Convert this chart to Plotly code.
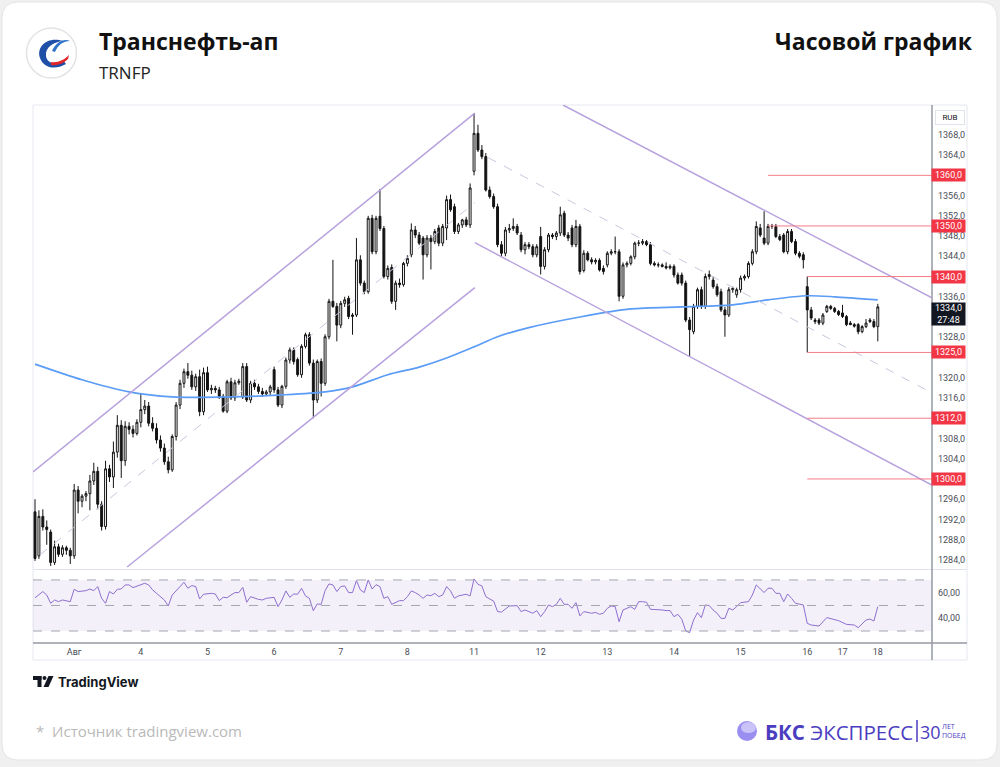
import plotly.graph_objects as go

# ---------------- data ----------------
day_labels = ["Авг", "4", "5", "6", "7", "8", "11", "12", "13", "14", "15", "16", "17", "18"]
day_start_idx = [10, 27, 44, 61, 78, 95, 112, 129, 146, 163, 180, 197, 206, 215]

opens = [
    1293.5, 1284.8, 1292.6, 1290.5, 1289.5, 1283.5, 1286.6, 1285.1, 1286.4, 1285.9,
    1284.8, 1297.8, 1295.6, 1296.6, 1297.1, 1299.6, 1301.5, 1295.0, 1290.6, 1302.0, 1300.4, 1305.3, 1310.6, 1303.6, 1310.4, 1309.8, 1309.0,
    1311.2, 1313.7, 1314.4, 1311.0, 1310.0, 1307.7, 1306.1, 1303.4, 1301.8, 1308.4, 1314.6, 1318.9, 1321.2, 1320.5, 1318.2, 1320.2, 1313.3,
    1321.0, 1317.6, 1317.9, 1317.6, 1316.3, 1313.4, 1319.2, 1316.0, 1319.0, 1316.2, 1322.2, 1315.6, 1318.9, 1318.2, 1317.3, 1316.8, 1317.2,
    1321.6, 1317.6, 1314.6, 1318.3, 1323.5, 1325.5, 1323.6, 1320.6, 1326.2, 1328.5, 1322.9, 1315.6, 1323.2, 1318.9, 1328.1, 1335.1, 1334.1,
    1330.4, 1334.7, 1335.7, 1332.1, 1332.4, 1343.3, 1338.7, 1337.0, 1351.5, 1344.9, 1351.9, 1349.5, 1340.0, 1341.8, 1335.1, 1338.7, 1338.4,
    1342.6, 1344.3, 1349.2, 1348.2, 1347.6, 1344.3, 1347.6, 1346.9, 1349.6, 1346.6, 1349.6, 1355.2, 1353.8, 1348.9, 1350.2, 1351.2, 1350.2,
    1360.8, 1368.3, 1365.0, 1363.7, 1357.1, 1355.8, 1353.8, 1346.3, 1344.6, 1349.2, 1349.5, 1349.9, 1348.2, 1345.3, 1346.3, 1345.9, 1344.3,
    1347.9, 1342.0, 1345.3, 1348.2, 1347.9, 1348.6, 1352.5, 1348.2, 1349.6, 1346.3, 1349.9, 1341.2, 1344.6, 1343.3, 1342.9, 1343.2, 1341.6,
    1342.3, 1344.6, 1344.9, 1344.9, 1336.1, 1342.3, 1342.6, 1343.9, 1346.6, 1346.6, 1346.9, 1346.3, 1342.6, 1342.3, 1342.3, 1342.0, 1341.7,
    1342.0, 1340.3, 1340.3, 1338.7, 1331.4, 1329.1, 1334.1, 1337.4, 1334.1, 1340.0, 1339.3, 1338.0, 1337.0, 1333.4, 1332.4, 1337.4, 1336.4,
    1337.4, 1339.7, 1340.0, 1342.6, 1344.9, 1349.6, 1347.6, 1346.6, 1349.9, 1349.9, 1347.9, 1348.2, 1344.9, 1348.9, 1346.9, 1344.6, 1344.3,
    1338.0, 1333.4, 1331.4, 1331.4, 1330.8, 1333.1, 1334.1, 1333.7, 1333.1,
    1332.8, 1332.1, 1330.8, 1330.5, 1330.5, 1329.1, 1330.1, 1331.4, 1331.1,
    1330.1,
]
highs = [
    1296.0, 1293.8, 1294.0, 1291.8, 1290.0, 1287.8, 1287.2, 1286.9, 1286.8, 1286.4,
    1299.0, 1298.6, 1297.0, 1297.6, 1300.8, 1303.2, 1302.4, 1295.6, 1303.6, 1302.8, 1307.4, 1312.6, 1311.6, 1311.4, 1311.2, 1310.6, 1311.8,
    1317.0, 1315.6, 1315.2, 1312.2, 1311.0, 1308.6, 1307.0, 1304.4, 1308.8, 1315.2, 1319.6, 1321.8, 1322.9, 1321.4, 1320.8, 1321.6, 1322.0,
    1322.2, 1318.6, 1318.4, 1318.2, 1316.8, 1319.6, 1320.0, 1319.6, 1319.8, 1322.9, 1322.9, 1319.4, 1319.6, 1318.8, 1318.0, 1317.6, 1318.6,
    1322.2, 1318.2, 1318.6, 1324.0, 1326.0, 1326.0, 1324.0, 1326.6, 1328.9, 1329.0, 1323.6, 1323.6, 1323.8, 1328.6, 1335.6, 1343.3, 1334.8,
    1335.2, 1336.0, 1336.2, 1332.8, 1347.6, 1344.2, 1339.2, 1352.0, 1352.2, 1352.0, 1357.3, 1350.0, 1342.2, 1342.4, 1339.2, 1339.6, 1342.9,
    1344.2, 1350.5, 1350.0, 1348.8, 1348.0, 1348.2, 1348.2, 1349.4, 1350.2, 1350.4, 1356.0, 1356.2, 1354.4, 1350.6, 1351.4, 1351.8, 1358.4,
    1372.3, 1370.0, 1366.0, 1364.4, 1357.8, 1356.4, 1354.4, 1347.0, 1349.8, 1350.4, 1351.5, 1350.4, 1348.8, 1346.8, 1346.8, 1346.4, 1346.4,
    1349.8, 1345.8, 1348.6, 1348.6, 1349.0, 1353.8, 1353.0, 1348.8, 1350.2, 1351.2, 1350.4, 1345.2, 1345.0, 1343.8, 1343.6, 1343.6, 1342.2,
    1345.0, 1345.4, 1347.9, 1345.4, 1342.8, 1343.0, 1344.2, 1346.9, 1347.2, 1347.4, 1347.2, 1346.8, 1343.0, 1342.8, 1342.6, 1342.8, 1342.4,
    1342.4, 1340.8, 1340.8, 1339.2, 1332.0, 1334.6, 1337.8, 1338.0, 1340.6, 1341.2, 1340.0, 1338.6, 1337.6, 1334.0, 1337.9, 1338.0, 1337.8,
    1340.2, 1340.4, 1343.0, 1345.4, 1350.9, 1350.4, 1352.9, 1350.4, 1350.4, 1350.4, 1348.4, 1348.6, 1349.4, 1349.4, 1347.4, 1345.0, 1344.8,
    1340.0, 1334.0, 1331.8, 1331.8, 1332.8, 1334.4, 1334.4, 1334.0, 1333.4,
    1334.4, 1332.4, 1331.2, 1330.8, 1330.8, 1330.4, 1331.6, 1331.8, 1331.6,
    1334.6,
]
lows = [
    1283.8, 1284.2, 1289.8, 1287.0, 1282.8, 1283.0, 1284.6, 1284.6, 1285.0, 1283.2,
    1284.2, 1293.2, 1294.4, 1295.6, 1293.8, 1298.8, 1294.0, 1289.8, 1290.0, 1299.4, 1298.2, 1304.2, 1300.2, 1302.6, 1308.8, 1308.2, 1308.6,
    1310.2, 1312.8, 1310.4, 1309.4, 1307.0, 1305.4, 1302.8, 1301.1, 1301.4, 1307.6, 1313.8, 1318.0, 1319.8, 1317.6, 1317.4, 1312.4, 1312.6,
    1317.2, 1316.8, 1317.0, 1315.8, 1313.1, 1313.0, 1315.6, 1315.4, 1318.6, 1315.8, 1315.2, 1315.0, 1317.6, 1316.8, 1316.2, 1316.4, 1316.6,
    1317.0, 1314.2, 1314.0, 1317.8, 1322.8, 1322.6, 1320.2, 1320.0, 1325.8, 1322.4, 1312.0, 1315.0, 1316.3, 1318.4, 1327.6, 1333.8, 1327.2,
    1329.8, 1334.0, 1331.6, 1328.5, 1332.0, 1338.2, 1336.5, 1336.6, 1344.4, 1344.4, 1349.0, 1339.6, 1339.4, 1334.6, 1333.4, 1337.8, 1338.0,
    1342.0, 1343.8, 1347.6, 1346.2, 1339.4, 1343.8, 1341.4, 1346.4, 1346.0, 1346.0, 1347.2, 1352.8, 1348.4, 1348.4, 1349.6, 1349.8, 1349.6,
    1360.0, 1364.6, 1363.2, 1356.8, 1355.4, 1353.4, 1345.8, 1344.0, 1344.0, 1348.6, 1349.0, 1348.2, 1344.8, 1344.4, 1345.4, 1343.8, 1343.8,
    1340.4, 1341.4, 1344.8, 1347.4, 1347.2, 1348.0, 1347.8, 1347.0, 1345.8, 1345.8, 1340.4, 1340.8, 1343.0, 1342.4, 1342.4, 1341.0, 1340.4,
    1341.8, 1344.2, 1344.4, 1335.1, 1335.6, 1341.8, 1342.2, 1343.4, 1346.0, 1346.2, 1346.0, 1342.2, 1342.0, 1341.8, 1341.8, 1341.4, 1341.4,
    1339.8, 1338.4, 1338.2, 1331.0, 1324.2, 1328.6, 1333.6, 1333.6, 1333.6, 1339.4, 1337.6, 1336.0, 1333.0, 1328.1, 1332.0, 1336.8, 1335.8,
    1336.8, 1339.2, 1339.6, 1342.2, 1344.4, 1347.8, 1346.2, 1346.2, 1349.4, 1347.6, 1347.0, 1344.6, 1344.4, 1346.6, 1344.2, 1343.6, 1341.6,
    1325.0, 1331.4, 1330.6, 1330.4, 1330.4, 1332.8, 1333.4, 1332.8, 1332.2,
    1331.8, 1330.2, 1330.4, 1329.9, 1328.6, 1328.8, 1329.8, 1330.8, 1329.8,
    1327.2,
]
closes = [
    1284.3, 1292.6, 1290.5, 1290.0, 1283.5, 1286.6, 1285.1, 1286.4, 1285.9, 1284.8,
    1297.8, 1295.6, 1296.6, 1297.1, 1299.6, 1301.5, 1295.0, 1290.6, 1302.0, 1300.4, 1305.3, 1310.6, 1303.6, 1310.4, 1309.8, 1309.0, 1311.2,
    1313.7, 1314.4, 1311.0, 1310.0, 1307.7, 1306.1, 1303.4, 1301.8, 1308.4, 1314.6, 1318.9, 1321.2, 1320.5, 1318.2, 1320.2, 1313.3, 1321.0,
    1317.6, 1317.9, 1317.6, 1316.3, 1313.4, 1319.2, 1316.0, 1319.0, 1319.3, 1322.2, 1315.6, 1318.9, 1318.2, 1317.3, 1316.8, 1317.2, 1318.2,
    1317.6, 1314.6, 1318.3, 1323.5, 1325.5, 1323.2, 1320.6, 1326.2, 1328.5, 1322.9, 1315.6, 1323.2, 1318.9, 1328.1, 1335.1, 1334.1, 1330.4,
    1334.7, 1335.4, 1332.1, 1332.4, 1343.3, 1338.7, 1337.0, 1351.5, 1344.9, 1351.5, 1349.5, 1340.0, 1341.6, 1335.1, 1338.7, 1338.4, 1342.6,
    1343.6, 1349.2, 1348.2, 1346.6, 1344.3, 1347.6, 1346.9, 1348.9, 1346.6, 1349.9, 1355.2, 1353.2, 1348.9, 1350.2, 1351.2, 1350.2, 1357.5,
    1368.3, 1365.0, 1363.7, 1357.1, 1355.8, 1353.8, 1346.3, 1344.6, 1349.2, 1349.5, 1349.9, 1348.6, 1345.3, 1346.3, 1345.9, 1344.3, 1345.9,
    1342.0, 1345.3, 1348.2, 1347.9, 1348.6, 1352.2, 1348.2, 1347.6, 1346.3, 1349.9, 1341.0, 1344.6, 1343.3, 1342.9, 1343.2, 1341.3, 1341.0,
    1344.6, 1344.9, 1344.9, 1336.1, 1342.3, 1342.6, 1343.9, 1346.6, 1346.6, 1346.9, 1346.3, 1342.6, 1342.3, 1342.3, 1342.0, 1341.7, 1342.0,
    1340.3, 1338.7, 1338.7, 1331.4, 1329.5, 1334.1, 1337.4, 1334.1, 1340.0, 1340.4, 1338.0, 1336.4, 1333.4, 1332.4, 1337.4, 1337.7, 1337.4,
    1339.7, 1340.0, 1342.6, 1344.9, 1349.9, 1348.2, 1346.6, 1349.9, 1349.9, 1347.9, 1347.3, 1344.9, 1348.9, 1346.9, 1344.6, 1344.0, 1343.3,
    1333.4, 1331.8, 1331.1, 1330.8, 1332.4, 1334.1, 1333.7, 1333.1, 1332.5,
    1332.1, 1330.5, 1330.5, 1330.2, 1329.1, 1330.1, 1330.8, 1331.1, 1330.1,
    1334.0,
]

# moving average (sampled at candle indices)
ma_idx = [0, 12, 24, 35, 50, 63, 74, 81, 90, 98, 105, 112, 118, 126, 139, 152, 165, 178, 187, 197, 204, 215]
ma_val = [1322.7, 1319.6, 1317.2, 1316.2, 1316.2, 1316.6, 1317.2, 1318.2, 1320.6, 1322.1, 1323.9, 1326.1, 1328.1,
          1329.9, 1332.0, 1333.6, 1334.0, 1334.4, 1335.4, 1336.2, 1336.0, 1335.4]

# RSI (candle index, value)
rsi_idx = [0, 2, 3, 4, 5, 6, 7, 9, 10, 11, 13, 14, 15, 16, 17, 18, 19, 20, 21, 22, 23, 24, 25, 27, 28, 29, 30, 31, 33, 34, 35,
           37, 38, 39, 40, 41, 42, 43, 45, 46, 47, 48, 49, 50, 51, 52, 53, 54, 55, 57, 58, 59, 61, 62, 63, 64, 65, 66, 67, 68,
           69, 70, 71, 72, 73, 74, 75, 76, 77, 78, 79, 80, 81, 82, 83, 84, 85, 86, 87, 88, 89, 90, 91, 93, 94, 95, 96, 97, 98,
           99, 100, 101, 102, 103, 104, 105, 106, 107, 108, 110, 111, 112, 113, 114, 115, 116, 117, 118, 119, 121, 122, 123,
           124, 125, 126, 127, 128, 129, 130, 131, 132, 133, 134, 135, 136, 137, 138, 139, 140, 141, 142, 143, 144, 145, 146,
           147, 148, 149, 150, 151, 152, 153, 154, 155, 156, 157, 159, 160, 161, 162, 163, 164, 165, 166, 167, 168, 169, 170,
           171, 172, 173, 174, 175, 176, 177, 178, 179, 180, 182, 183, 184, 185, 186, 187, 188, 189, 190, 191, 192, 193, 194,
           196, 197, 198, 200, 202, 204, 205, 207, 209, 210, 211, 212, 213, 214, 215]
rsi_val = [56.0, 60.9, 58.2, 51.7, 54.3, 53.0, 54.3, 53.0, 62.7, 60.9, 61.6, 62.9, 61.6, 64.8, 55.6, 51.7, 60.9, 59.0, 62.7,
           62.9, 66.1, 66.1, 64.0, 66.1, 67.4, 66.1, 62.2, 59.5, 54.3, 49.6, 58.2,
           64.8, 68.2, 63.5, 65.6, 64.8, 55.1, 58.8, 59.5, 59.0, 53.8, 56.4, 56.1, 58.2, 60.1, 60.1, 64.2, 52.5, 56.9, 54.8,
           54.3, 55.6, 56.4, 49.1, 54.3, 61.4, 56.4, 59.0, 58.8, 63.5,
           57.5, 55.6, 45.9, 51.2, 50.9, 61.6, 66.9, 66.1, 60.9, 64.8, 65.3, 60.1, 60.1, 69.5, 62.2, 60.1, 70.0, 62.9, 66.3,
           64.8, 55.6, 56.9, 50.9, 53.8, 53.8, 56.9, 61.4, 60.1, 58.2,
           55.6, 58.2, 57.7, 59.5, 56.9, 58.2, 64.8, 61.4, 55.6, 57.5, 58.8, 57.5, 70.8, 66.6, 65.3, 56.9, 55.1, 53.5, 45.2,
           44.8, 49.6, 49.6, 49.9,
           45.2, 46.5, 45.2, 43.9, 46.0, 41.2, 45.2, 50.4, 49.1, 50.9, 55.6, 50.9, 50.9, 47.8, 52.2, 41.8, 45.2, 44.4, 43.9,
           44.6, 43.1, 43.9, 47.8,
           49.6, 49.1, 37.3, 46.5, 47.8, 49.1, 47.0, 53.0, 53.0, 52.5, 47.0, 47.0, 46.5, 46.0, 46.0, 41.2, 43.1, 39.2, 30.0,
           28.7, 38.6, 44.4, 40.5,
           50.4, 49.9, 46.5, 43.9, 39.9, 39.9, 47.8, 46.5, 49.1, 52.2, 53.0, 58.2, 66.1, 62.7, 60.1, 63.5, 63.5, 59.5, 59.5,
           53.0, 59.0, 55.6, 51.7,
           50.4, 36.0, 34.7, 33.9, 40.5, 39.2, 38.1, 35.2, 34.7, 32.6, 36.0, 38.6, 39.4, 37.8, 49.1]

# drawn tools: trend channels (candle index, price)
channel_up_upper = [(-0.5, 1301.4), (112.2, 1372.3)]
channel_up_lower = [(23.5, 1282.6), (112.2, 1337.8)]
channel_up_mid = [(1.3, 1285.0), (112.2, 1354.6)]
channel_dn_upper = [(134.7, 1373.9), (228.8, 1335.8)]
channel_dn_lower = [(112.2, 1346.7), (228.8, 1298.8)]
channel_dn_mid = [(115.6, 1363.5), (228.8, 1317.0)]

# horizontal levels (price, start index)
level_prices = [1360.0, 1350.0, 1340.0, 1325.0, 1312.0, 1300.0]
level_start = [187, 187, 197, 197, 197, 197]

price_ticks = list(range(1284, 1369, 4))
last_price = 1334.0
last_timer = "27:48"

# ---------------- layout helpers ----------------
W, H = 1000, 767


def px(x):
    return x / W


def py(y):
    return 1 - y / H


def path(cmds):
    out = []
    for c, pts in cmds:
        s = c
        for (x, y) in pts:
            s += " %.5f,%.5f" % (px(x), py(y))
        out.append(s)
    return " ".join(out)


N = len(closes)
idx = list(range(N))
X0, X1 = 33, 932
x_rng = [(X0 - 35) / 3.92, (X1 - 35) / 3.92]

# tick labels that sit under the price-scale labels are hidden (as on the reference)
shown_ticks = [t for t in price_ticks
               if all(abs(t - lv) >= 2 for lv in level_prices)
               and not (last_price - 3.5 < t < last_price + 1.5)]

fig = go.Figure()

fig.add_trace(go.Candlestick(
    x=idx, open=opens, high=highs, low=lows, close=closes,
    increasing=dict(line=dict(color="#131313", width=1), fillcolor="#ffffff"),
    decreasing=dict(line=dict(color="#131313", width=1), fillcolor="#131313"),
    whiskerwidth=0, showlegend=False, hoverinfo="skip",
    xaxis="x", yaxis="y",
))
fig.add_trace(go.Scatter(
    x=ma_idx, y=ma_val, mode="lines", line=dict(color="#5b9cf6", width=1.7, shape="spline", smoothing=0.8),
    showlegend=False, hoverinfo="skip", xaxis="x", yaxis="y",
))
fig.add_trace(go.Scatter(
    x=rsi_idx, y=rsi_val, mode="lines", line=dict(color="#8f6fd0", width=1),
    showlegend=False, hoverinfo="skip", xaxis="x2", yaxis="y2",
))

shapes = []
# card background
r = 16
cx0, cy0, cx1, cy1 = 2, 2, 997, 760
shapes.append(dict(
    type="path", xref="paper", yref="paper", layer="below",
    path=path([("M", [(cx0 + r, cy0)]), ("L", [(cx1 - r, cy0)]), ("Q", [(cx1, cy0), (cx1, cy0 + r)]),
               ("L", [(cx1, cy1 - r)]), ("Q", [(cx1, cy1), (cx1 - r, cy1)]), ("L", [(cx0 + r, cy1)]),
               ("Q", [(cx0, cy1), (cx0, cy1 - r)]), ("L", [(cx0, cy0 + r)]), ("Q", [(cx0, cy0), (cx0 + r, cy0)]),
               ("Z", [])]),
    fillcolor="#ffffff", line=dict(color="#e4e4e4", width=1),
))
# chart frame
shapes.append(dict(type="rect", xref="paper", yref="paper", layer="below",
                   x0=px(33), x1=px(967), y0=py(660), y1=py(105),
                   line=dict(color="#e6e8ee", width=1), fillcolor="rgba(0,0,0,0)"))
# RSI band and guides
shapes.append(dict(type="rect", xref="x2 domain", yref="y2", layer="below", x0=0, x1=1, y0=30, y1=70,
                   fillcolor="rgba(126,87,194,0.09)", line=dict(width=0)))
for v in (70, 50, 30):
    shapes.append(dict(type="line", xref="x2 domain", yref="y2", x0=0, x1=1, y0=v, y1=v,
                       line=dict(color="#a3a6af", width=1, dash="dash")))
# pane separator, x-axis line, price-scale line
shapes.append(dict(type="line", xref="paper", yref="paper", x0=px(33), x1=px(967), y0=py(569.5), y1=py(569.5),
                   line=dict(color="#e0e3eb", width=1)))
shapes.append(dict(type="line", xref="paper", yref="paper", x0=px(33), x1=px(967), y0=py(643), y1=py(643),
                   line=dict(color="#9598a1", width=1.5)))
shapes.append(dict(type="line", xref="paper", yref="paper", x0=px(932), x1=px(932), y0=py(660), y1=py(105),
                   line=dict(color="#9598a1", width=1.5)))

# channels
for seg in (channel_up_upper, channel_up_lower, channel_dn_upper, channel_dn_lower):
    shapes.append(dict(type="line", xref="x", yref="y", x0=seg[0][0], y0=seg[0][1], x1=seg[1][0], y1=seg[1][1],
                       line=dict(color="#b7a2de", width=1.5)))
for seg in (channel_up_mid, channel_dn_mid):
    shapes.append(dict(type="line", xref="x", yref="y", x0=seg[0][0], y0=seg[0][1], x1=seg[1][0], y1=seg[1][1],
                       line=dict(color="#c6c9dd", width=1, dash="dash")))
# levels
for p, s in zip(level_prices, level_start):
    shapes.append(dict(type="line", xref="x", yref="y", x0=s, x1=x_rng[1] + 1, y0=p, y1=p,
                       line=dict(color="#f47c86", width=1)))

# Transneft logo
shapes.append(dict(type="circle", xref="paper", yref="paper", x0=px(26.5), x1=px(76.5), y0=py(78), y1=py(28),
                   line=dict(color="#e3e3e3", width=1.5), fillcolor="#ffffff"))
shapes.append(dict(type="path", xref="paper", yref="paper", line=dict(width=0), fillcolor="#1f4fa6",
                   path=path([("M", [(63, 41)]), ("C", [(48, 36), (36, 46), (40, 58)]), ("C", [(43, 67), (54, 71), (66, 64)]),
                              ("L", [(64, 61.5)]), ("C", [(55, 66), (47, 63), (46, 56)]), ("C", [(45, 47), (54, 42), (63, 41)]), ("Z", [])])))
shapes.append(dict(type="path", xref="paper", yref="paper", line=dict(width=0), fillcolor="#2f72c9",
                   path=path([("M", [(52, 51)]), ("C", [(56, 42), (64, 38), (70, 41)]), ("C", [(63, 41), (58, 45), (55, 52)]), ("Z", [])])))
shapes.append(dict(type="path", xref="paper", yref="paper", line=dict(width=0), fillcolor="#e0262b",
                   path=path([("M", [(51, 62)]), ("C", [(58, 63), (64, 60), (69, 55)]), ("L", [(68, 59)]),
                              ("C", [(63, 64), (57, 66), (51, 65)]), ("Z", [])])))

# TradingView logo
tv = "#131722"
shapes.append(dict(type="rect", xref="paper", yref="paper", x0=px(33), x1=px(41.5), y0=py(680), y1=py(676),
                   fillcolor=tv, line=dict(width=0)))
shapes.append(dict(type="rect", xref="paper", yref="paper", x0=px(37.5), x1=px(41.5), y0=py(687), y1=py(676),
                   fillcolor=tv, line=dict(width=0)))
shapes.append(dict(type="circle", xref="paper", yref="paper", x0=px(42.5), x1=px(46.5), y0=py(680), y1=py(676),
                   fillcolor=tv, line=dict(width=0)))
shapes.append(dict(type="path", xref="paper", yref="paper", fillcolor=tv, line=dict(width=0),
                   path=path([("M", [(48.5, 676)]), ("L", [(53.5, 676)]), ("L", [(48.5, 687)]), ("L", [(43.5, 687)]), ("Z", [])])))

# BKS sphere + divider
shapes.append(dict(type="circle", xref="paper", yref="paper", x0=px(737), x1=px(757), y0=py(741), y1=py(721),
                   fillcolor="#9a8ff0", line=dict(width=0)))
shapes.append(dict(type="circle", xref="paper", yref="paper", x0=px(741), x1=px(756), y0=py(733), y1=py(722),
                   fillcolor="#c9c3f7", line=dict(width=0)))
shapes.append(dict(type="line", xref="paper", yref="paper", x0=px(917), x1=px(917), y0=py(742), y1=py(720),
                   line=dict(color="#4b3dbf", width=1.5)))

fig.update_layout(shapes=shapes)

ann = []
ann.append(dict(text="<b>Транснефть-ап</b>", x=px(97), y=py(41), xanchor="left", yanchor="middle",
                font=dict(family="Open Sans", size=23, color="#111111")))
ann.append(dict(text="TRNFP", x=px(97), y=py(72), xanchor="left", yanchor="middle",
                font=dict(family="Open Sans", size=17, color="#222222")))
ann.append(dict(text="<b>Часовой график</b>", x=px(975), y=py(41), xanchor="right", yanchor="middle",
                font=dict(family="Open Sans", size=23, color="#111111")))
ann.append(dict(text="<b>TradingView</b>", x=px(56), y=py(681.5), xanchor="left", yanchor="middle",
                font=dict(family="Inter", size=13, color=tv)))
ann.append(dict(text="*  Источник tradingview.com", x=px(34), y=py(731), xanchor="left", yanchor="middle",
                font=dict(family="Open Sans", size=15, color="#b9b9b9")))
ann.append(dict(text="<b>БКС</b> ЭКСПРЕСС", x=px(763), y=py(731.5), xanchor="left", yanchor="middle",
                font=dict(family="Open Sans", size=20.5, color="#4b3dbf")))
ann.append(dict(text="30", x=px(918), y=py(731.5), xanchor="left", yanchor="middle",
                font=dict(family="Open Sans", size=18, color="#4b3dbf")))
ann.append(dict(text="ЛЕТ<br>ПОБЕД", x=px(940), y=py(731), xanchor="left", yanchor="middle", align="left",
                font=dict(family="Open Sans", size=7, color="#4b3dbf")))
# price scale widgets
ann.append(dict(text="RUB", x=px(950), y=py(117.5), xanchor="center", yanchor="middle",
                font=dict(family="Roboto", size=8, color="#131722"), bgcolor="#ffffff",
                bordercolor="#e0e3eb", borderwidth=1, width=26, height=11))
for p in level_prices:
    ann.append(dict(text="%d,0" % p, x=px(948.5), y=p, yref="y", xanchor="center", yanchor="middle",
                    font=dict(family="Roboto", size=9, color="#ffffff"), bgcolor="#f23645",
                    width=31, height=10, borderpad=1))
ann.append(dict(text=("%.1f" % last_price).replace(".", ",") + "<br>" + last_timer,
                x=px(948.5), y=last_price, yref="y", yshift=5, xanchor="center", yanchor="top",
                font=dict(family="Roboto", size=9, color="#ffffff"), bgcolor="#131722",
                width=31, height=20, borderpad=1))
for a in ann:
    a.setdefault("xref", "paper")
    a.setdefault("yref", "paper")
    a["showarrow"] = False
fig.update_layout(annotations=ann)

fig.update_layout(
    width=W, height=H, margin=dict(l=0, r=0, t=0, b=0),
    paper_bgcolor="#f0f0f0", plot_bgcolor="rgba(0,0,0,0)",
    xaxis=dict(domain=[px(X0), px(X1)], range=x_rng, anchor="y", showticklabels=False, showgrid=False,
               zeroline=False, rangeslider=dict(visible=False), fixedrange=True),
    yaxis=dict(domain=[py(568), py(105)], range=[1282.4, 1373.9], side="right", anchor="x",
               tickvals=shown_ticks, ticktext=["%d,0" % v for v in shown_ticks],
               showgrid=False, zeroline=False, ticks="", ticklabelstandoff=5,
               tickfont=dict(family="Roboto", size=9, color="#4a4d57")),
    xaxis2=dict(domain=[px(X0), px(X1)], range=x_rng, anchor="y2", matches="x", showgrid=False, zeroline=False,
                tickvals=day_start_idx, ticktext=day_labels, ticks="", ticklabelstandoff=2,
                tickfont=dict(family="Roboto", size=9, color="#4a4d57")),
    yaxis2=dict(domain=[py(643), py(570)], range=[20.6, 77.8], side="right", anchor="x2",
                tickvals=[40, 60], ticktext=["40,00", "60,00"], showgrid=False, zeroline=False,
                ticks="", ticklabelstandoff=5, tickfont=dict(family="Roboto", size=9, color="#4a4d57")),
    hovermode=False,
)

fig.write_html("out.html")
